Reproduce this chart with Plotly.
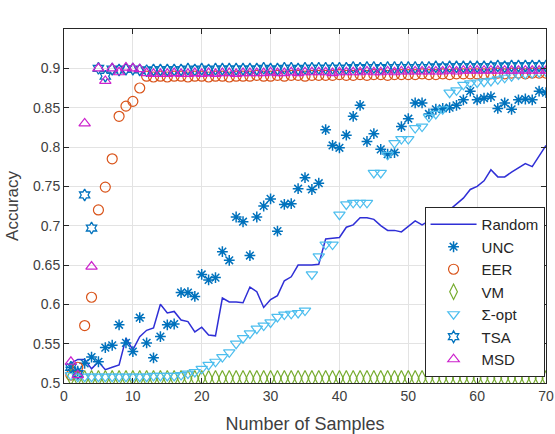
import plotly.graph_objects as go

x = list(range(1, 71))

random_acc = [0.525, 0.530, 0.530, 0.518, 0.527, 0.517, 0.520, 0.523, 0.557, 0.542,
              0.559, 0.567, 0.570, 0.600, 0.589, 0.591, 0.580, 0.578, 0.565, 0.571,
              0.561, 0.560, 0.608, 0.603, 0.603, 0.602, 0.622, 0.616, 0.596, 0.606,
              0.611, 0.630, 0.635, 0.650, 0.650, 0.650, 0.651, 0.683, 0.684, 0.685,
              0.698, 0.701, 0.710, 0.710, 0.708, 0.700, 0.694, 0.694, 0.692, 0.699,
              0.706, 0.701, 0.706, 0.712, 0.716, 0.720, 0.727, 0.735, 0.746, 0.750,
              0.757, 0.771, 0.762, 0.762, 0.768, 0.774, 0.779, 0.775, 0.788, 0.802]

unc_acc = [0.520, 0.515, 0.525, 0.533, 0.527, 0.545, 0.548, 0.574, 0.551, 0.540,
           0.583, 0.551, 0.532, 0.559, 0.574, 0.575, 0.615, 0.615, 0.610, 0.638,
           0.631, 0.634, 0.667, 0.656, 0.711, 0.705, 0.662, 0.711, 0.725, 0.734,
           0.693, 0.727, 0.728, 0.747, 0.761, 0.746, 0.754, 0.822, 0.802, 0.799,
           0.815, 0.839, 0.853, 0.807, 0.817, 0.797, 0.791, 0.793, 0.826, 0.836,
           0.856, 0.856, 0.842, 0.848, 0.849, 0.850, 0.853, 0.860, 0.871, 0.860,
           0.862, 0.864, 0.849, 0.856, 0.848, 0.860, 0.861, 0.860, 0.871, 0.869]

eer_acc = [0.510, 0.520, 0.573, 0.609, 0.720, 0.749, 0.785, 0.839, 0.852, 0.858,
           0.875, 0.890, 0.889, 0.890, 0.889, 0.890, 0.890, 0.889, 0.890, 0.890,
           0.889, 0.890, 0.890, 0.889, 0.890, 0.890, 0.890, 0.891, 0.890, 0.890,
           0.891, 0.890, 0.891, 0.891, 0.890, 0.891, 0.891, 0.891, 0.891, 0.892,
           0.891, 0.891, 0.892, 0.891, 0.892, 0.892, 0.891, 0.892, 0.892, 0.892,
           0.892, 0.893, 0.892, 0.892, 0.893, 0.892, 0.893, 0.893, 0.893, 0.893,
           0.893, 0.893, 0.894, 0.893, 0.894, 0.894, 0.893, 0.894, 0.894, 0.894]

vm_acc = [0.507, 0.506, 0.506, 0.506, 0.506, 0.506, 0.506, 0.506, 0.506, 0.506,
          0.506, 0.506, 0.506, 0.506, 0.506, 0.506, 0.506, 0.506, 0.506, 0.506,
          0.506, 0.506, 0.506, 0.506, 0.506, 0.506, 0.506, 0.506, 0.506, 0.506,
          0.506, 0.506, 0.506, 0.506, 0.506, 0.506, 0.506, 0.506, 0.506, 0.506,
          0.506, 0.506, 0.506, 0.506, 0.506, 0.506, 0.506, 0.506, 0.506, 0.506,
          0.506, 0.506, 0.506, 0.506, 0.506, 0.506, 0.506, 0.506, 0.506, 0.506,
          0.506, 0.506, 0.506, 0.506, 0.506, 0.506, 0.506, 0.506, 0.506, 0.506]

sigma_acc = [0.510, 0.508, 0.508, 0.508, 0.508, 0.508, 0.508, 0.508, 0.508, 0.508,
             0.508, 0.508, 0.509, 0.509, 0.509, 0.509, 0.510, 0.512, 0.514, 0.518,
             0.523, 0.527, 0.533, 0.539, 0.550, 0.557, 0.563, 0.569, 0.573, 0.577,
             0.584, 0.587, 0.588, 0.589, 0.592, 0.638, 0.661, 0.676, 0.676, 0.714,
             0.727, 0.729, 0.729, 0.729, 0.767, 0.767, 0.790, 0.805, 0.810, 0.810,
             0.824, 0.826, 0.838, 0.842, 0.848, 0.869, 0.872, 0.879, 0.881, 0.882,
             0.883, 0.884, 0.886, 0.888, 0.890, 0.892, 0.893, 0.894, 0.895, 0.896]

tsa_acc = [0.520, 0.512, 0.739, 0.697, 0.900, 0.890, 0.899, 0.898, 0.899, 0.899,
           0.898, 0.897, 0.898, 0.898, 0.898, 0.898, 0.898, 0.899, 0.898, 0.899,
           0.898, 0.899, 0.899, 0.899, 0.899, 0.899, 0.899, 0.899, 0.900, 0.899,
           0.899, 0.900, 0.900, 0.899, 0.900, 0.900, 0.900, 0.900, 0.900, 0.900,
           0.900, 0.901, 0.900, 0.901, 0.901, 0.900, 0.901, 0.901, 0.901, 0.901,
           0.901, 0.901, 0.901, 0.902, 0.901, 0.902, 0.902, 0.902, 0.902, 0.902,
           0.902, 0.902, 0.903, 0.902, 0.903, 0.903, 0.903, 0.903, 0.903, 0.903]

msd_acc = [0.527, 0.510, 0.830, 0.648, 0.900, 0.884, 0.900, 0.895, 0.901, 0.900,
           0.899, 0.894, 0.893, 0.893, 0.893, 0.894, 0.893, 0.893, 0.894, 0.893,
           0.894, 0.893, 0.894, 0.894, 0.893, 0.894, 0.894, 0.894, 0.894, 0.895,
           0.894, 0.894, 0.895, 0.894, 0.895, 0.895, 0.895, 0.895, 0.894, 0.895,
           0.895, 0.895, 0.895, 0.896, 0.895, 0.895, 0.896, 0.895, 0.896, 0.896,
           0.896, 0.896, 0.896, 0.896, 0.896, 0.897, 0.896, 0.897, 0.897, 0.897,
           0.897, 0.897, 0.897, 0.897, 0.897, 0.897, 0.897, 0.897, 0.897, 0.897]

x_ticks = [0, 10, 20, 30, 40, 50, 60, 70]
y_ticks = [0.5, 0.55, 0.6, 0.65, 0.7, 0.75, 0.8, 0.85, 0.9]
y_tick_text = ["0.5", "0.55", "0.6", "0.65", "0.7", "0.75", "0.8", "0.85", "0.9"]

FONT = "Liberation Sans, Arial, Helvetica, sans-serif"

fig = go.Figure()

fig.add_trace(go.Scatter(x=x, y=random_acc, mode="lines", name="Random",
                         line=dict(color="#2f2fd6", width=1.5), legendgroup="a"))


def marker_trace(y, name, symbol, color, size, grp, lw=1.2):
    return go.Scatter(x=x, y=y, mode="markers", name=name, legendgroup=grp,
                      marker=dict(symbol=symbol, size=size, color=color,
                                  line=dict(color=color, width=lw)))


fig.add_trace(marker_trace(unc_acc, "UNC", "asterisk-open", "#0072BD", 9, "b", 1.5))
fig.add_trace(marker_trace(eer_acc, "EER", "circle-open", "#D95319", 10, "c"))
fig.add_trace(marker_trace(vm_acc, "VM", "diamond-tall-open", "#77AC30", 11, "d"))
fig.add_trace(marker_trace(sigma_acc, "Σ-opt", "triangle-down-open", "#4DBEEE", 10, "e"))
fig.add_trace(marker_trace(tsa_acc, "TSA", "hexagram-open", "#0072BD", 9, "f", 1.3))
fig.add_trace(marker_trace(msd_acc, "MSD", "triangle-up-open", "#CC22CC", 10, "g"))

axis_common = dict(showline=True, linecolor="#262626", linewidth=1, mirror="allticks",
                   ticks="inside", ticklen=5, tickcolor="#262626",
                   showgrid=True, gridcolor="#e3e3e3", gridwidth=1, zeroline=False,
                   tickfont=dict(family=FONT, size=14, color="#404040"))

fig.update_xaxes(range=[0, 70], tickvals=x_ticks,
                 title=dict(text="Number of Samples", font=dict(family=FONT, size=18, color="#404040"),
                            standoff=14),
                 **axis_common)
fig.update_yaxes(range=[0.5, 0.95], tickvals=y_ticks, ticktext=y_tick_text,
                 title=dict(text="Accuracy", font=dict(family=FONT, size=17, color="#404040"),
                            standoff=10),
                 **axis_common)

fig.update_layout(
    width=555, height=434,
    margin=dict(l=64, r=9, t=29, b=51, autoexpand=False),
    paper_bgcolor="white", plot_bgcolor="white",
    font=dict(family=FONT, size=15, color="#262626"),
    legend=dict(x=0.997, y=0.017, xanchor="right", yanchor="bottom",
                bgcolor="white", bordercolor="#262626", borderwidth=1,
                font=dict(family=FONT, size=15, color="#262626"),
                tracegroupgap=0, itemwidth=46),
    showlegend=True,
)

fig.write_html("out.html")
